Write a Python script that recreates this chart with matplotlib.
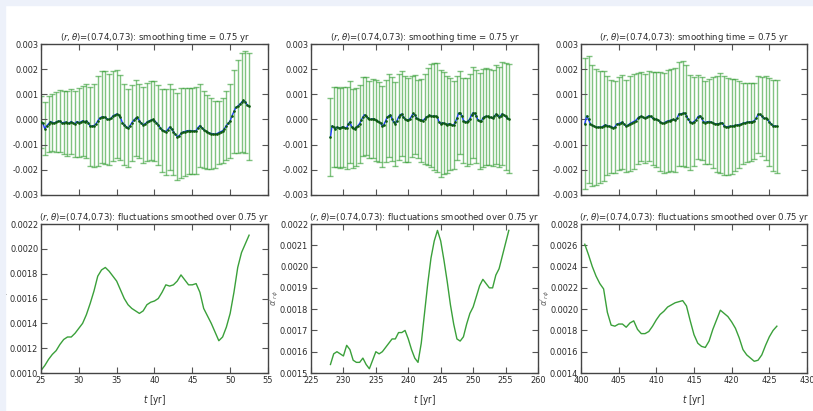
import numpy as np
import matplotlib
matplotlib.use('Agg')
from matplotlib import pyplot as plt
from matplotlib.patches import Rectangle

# smoothing window and location of the probe
r_theta = (0.74, 0.73)
smooth_yr = 0.75

# mean signal on a 0.25 yr grid, fluctuation amplitude on a 0.5 yr grid
t0_a = 25.0
mean_a = [
    -0.00010, -0.00015, -0.00037, -0.00025, -0.00017, -0.00008, -0.00012, -0.00014,
    -0.00010, -0.00007, -0.00006, -0.00013, -0.00012, -0.00010, -0.00015, -0.00013,
    -0.00008, -0.00014, -0.00017, -0.00008, -0.00012, -0.00010, -0.00005, -0.00010,
    -0.00006, -0.00012, -0.00027, -0.00026, -0.00024, -0.00018, -0.00006, 0.00005,
    0.00010, 0.00010, 0.00008, 0.00001, 0.00000, 0.00005, 0.00014, 0.00018,
    0.00022, 0.00018, 0.00008, -0.00012, -0.00020, -0.00028, -0.00035, -0.00025,
    -0.00013, -0.00003, 0.00005, 0.00008, -0.00005, -0.00014, -0.00021, -0.00017,
    -0.00011, -0.00006, -0.00003, 0.00000, -0.00005, -0.00012, -0.00022, -0.00032,
    -0.00042, -0.00046, -0.00048, -0.00040, -0.00030, -0.00038, -0.00048, -0.00058,
    -0.00068, -0.00065, -0.00055, -0.00050, -0.00048, -0.00045, -0.00044, -0.00044,
    -0.00045, -0.00046, -0.00044, -0.00032, -0.00024, -0.00032, -0.00040, -0.00046,
    -0.00050, -0.00053, -0.00056, -0.00057, -0.00058, -0.00056, -0.00052, -0.00048,
    -0.00045, -0.00036, -0.00024, -0.00015, -0.00005, 0.00015, 0.00032, 0.00048,
    0.00053, 0.00060, 0.00068, 0.00076, 0.00070, 0.00058, 0.00052,
]
sigma_a = [
    0.00102, 0.00106, 0.00111, 0.00115, 0.00118, 0.00123, 0.00127, 0.00129,
    0.00129, 0.00132, 0.00136, 0.00140, 0.00147, 0.00156, 0.00166, 0.00178,
    0.00183, 0.00185, 0.00182, 0.00178, 0.00174, 0.00167, 0.00160, 0.00155,
    0.00152, 0.00150, 0.00148, 0.00150, 0.00155, 0.00157, 0.00158, 0.00160,
    0.00165, 0.00171, 0.00170, 0.00171, 0.00174, 0.00179, 0.00175, 0.00171,
    0.00171, 0.00172, 0.00165, 0.00152, 0.00146, 0.00140, 0.00133, 0.00126,
    0.00129, 0.00137, 0.00148, 0.00165, 0.00185, 0.00197, 0.00204, 0.00211,
]

t0_b = 228.0
mean_b = [
    -0.00070, -0.00025, -0.00030, -0.00037, -0.00030, -0.00033, -0.00033, -0.00031,
    -0.00030, -0.00032, -0.00033, -0.00018, -0.00010, -0.00028, -0.00035, -0.00037,
    -0.00030, -0.00024, -0.00016, -0.00002, 0.00010, 0.00019, 0.00013, 0.00007,
    0.00001, 0.00001, 0.00003, 0.00001, -0.00003, -0.00006, -0.00010, -0.00015,
    -0.00027, -0.00020, -0.00005, 0.00009, 0.00015, 0.00018, 0.00002, -0.00010,
    -0.00017, -0.00005, 0.00010, 0.00019, 0.00022, 0.00010, 0.00003, -0.00003,
    -0.00001, 0.00003, 0.00013, 0.00024, 0.00018, 0.00007, 0.00002, -0.00001,
    -0.00003, -0.00004, 0.00002, 0.00009, 0.00012, 0.00016, 0.00015, 0.00013,
    0.00013, 0.00013, 0.00008, -0.00010, -0.00017, -0.00013, -0.00014, -0.00019,
    -0.00020, -0.00017, -0.00019, -0.00023, -0.00022, -0.00010, 0.00005, 0.00025,
    0.00026, 0.00015, -0.00004, -0.00008, -0.00010, -0.00005, 0.00003, 0.00018,
    0.00027, 0.00024, 0.00012, -0.00002, -0.00007, -0.00007, 0.00006, 0.00011,
    0.00013, 0.00012, 0.00010, 0.00008, 0.00005, 0.00012, 0.00021, 0.00018,
    0.00011, 0.00015, 0.00023, 0.00017, 0.00012, 0.00005, 0.00003,
]
sigma_b = [
    0.00154, 0.00159, 0.00160, 0.00159, 0.00158, 0.00163, 0.00161, 0.00156,
    0.00155, 0.00155, 0.00157, 0.00154, 0.00152, 0.00156, 0.00160, 0.00159,
    0.00160, 0.00162, 0.00164, 0.00166, 0.00166, 0.00169, 0.00169, 0.00170,
    0.00166, 0.00161, 0.00157, 0.00155, 0.00164, 0.00178, 0.00192, 0.00204,
    0.00212, 0.00217, 0.00212, 0.00203, 0.00193, 0.00182, 0.00173, 0.00166,
    0.00165, 0.00167, 0.00173, 0.00178, 0.00181, 0.00186, 0.00191, 0.00194,
    0.00192, 0.00190, 0.00190, 0.00196, 0.00199, 0.00205, 0.00211, 0.00217,
]

t0_c = 400.5
mean_c = [
    -0.00017, 0.00014, 0.00000, -0.00018, -0.00023, -0.00027, -0.00030, -0.00031,
    -0.00030, -0.00030, -0.00025, -0.00021, -0.00025, -0.00027, -0.00028, -0.00033,
    -0.00030, -0.00018, -0.00016, -0.00013, -0.00010, -0.00019, -0.00027, -0.00022,
    -0.00016, -0.00012, -0.00008, -0.00004, 0.00004, 0.00011, 0.00013, 0.00008,
    0.00005, 0.00010, 0.00015, 0.00012, 0.00005, 0.00002, 0.00000, -0.00003,
    -0.00008, -0.00015, -0.00015, -0.00009, -0.00006, -0.00004, -0.00002, 0.00000,
    -0.00003, 0.00005, 0.00022, 0.00023, 0.00024, 0.00026, 0.00015, 0.00000,
    -0.00011, -0.00013, -0.00008, -0.00002, 0.00010, 0.00015, 0.00005, -0.00008,
    -0.00012, -0.00009, -0.00008, -0.00010, -0.00013, -0.00017, -0.00017, -0.00017,
    -0.00015, -0.00013, -0.00025, -0.00030, -0.00028, -0.00027, -0.00027, -0.00025,
    -0.00023, -0.00022, -0.00020, -0.00018, -0.00015, -0.00013, -0.00011, -0.00010,
    -0.00009, -0.00008, -0.00005, 0.00005, 0.00020, 0.00020, 0.00013, 0.00004,
    0.00005, 0.00000, -0.00010, -0.00017, -0.00024, -0.00026, -0.00027,
]
sigma_c = [
    0.00261, 0.00251, 0.00240, 0.00231, 0.00224, 0.00219, 0.00197, 0.00185,
    0.00184, 0.00186, 0.00186, 0.00183, 0.00187, 0.00189, 0.00181, 0.00177,
    0.00177, 0.00179, 0.00184, 0.00190, 0.00195, 0.00198, 0.00202, 0.00204,
    0.00206, 0.00207, 0.00208, 0.00203, 0.00189, 0.00176, 0.00168, 0.00165,
    0.00164, 0.00170, 0.00181, 0.00190, 0.00199, 0.00196, 0.00193, 0.00188,
    0.00182, 0.00173, 0.00162, 0.00157, 0.00154, 0.00151, 0.00152, 0.00157,
    0.00166, 0.00174, 0.00180, 0.00184,
]

step_mean = 0.25
x_limits = [(25, 55), (225, 260), (400, 430)]
fluct_limits = [(0.0010, 0.0022, 0.0002), (0.0015, 0.0022, 0.0001), (0.0014, 0.0028, 0.0002)]

W, H = 813, 411
col_px = [(41, 268), (311, 538), (581, 807)]
top_px = (44, 195)
bot_px = (224, 373)

plt.rcParams['font.family'] = ['DejaVu Sans']
plt.rcParams['font.stretch'] = 'condensed'
plt.rcParams['mathtext.fontset'] = 'dejavusans'
text_col = '#2a2a2a'
title_size = 6.8


def px_axes(fig, x_px, y_px):
    left = x_px[0] / W
    width = (x_px[1] - x_px[0]) / W
    bottom = 1 - y_px[1] / H
    height = (y_px[1] - y_px[0]) / H
    return fig.add_axes([left, bottom, width, height])


def style_axes(ax):
    ax.tick_params(direction='in', top=True, right=True, length=4, width=0.8,
                   colors='#555555', labelcolor=text_col, labelsize=6.6, pad=2)
    for s in ax.spines.values():
        s.set_color('#444444')
        s.set_linewidth(1.0)


fig = plt.figure(figsize=(W / 100, H / 100), dpi=100)
fig.patch.set_facecolor('white')
fig.patches.append(Rectangle((0, 0), 5 / W, 1, transform=fig.transFigure,
                             color='#edf1fa', zorder=0))
fig.patches.append(Rectangle((0, 1 - 5 / H), 1, 5 / H, transform=fig.transFigure,
                             color='#edf1fa', zorder=0))

columns = [(t0_a, mean_a, sigma_a), (t0_b, mean_b, sigma_b), (t0_c, mean_c, sigma_c)]
rt = r'$(r,\theta)$=(%.2f,%.2f)' % r_theta

for i, (t0, mean, sigma) in enumerate(columns):
    mean = np.asarray(mean)
    sigma = np.asarray(sigma)
    t_mean = t0 + step_mean * np.arange(len(mean))
    t_sig = t_mean[::2]

    # top: smoothed mean with fluctuation bars
    ax1 = px_axes(fig, col_px[i], top_px)
    ax1.errorbar(t_sig, mean[::2], yerr=sigma, fmt='none', ecolor='#2e9b2e',
                 elinewidth=1.0, capsize=2, capthick=1.0, alpha=0.6, zorder=1)
    ax1.plot(t_mean, mean, '-', color='#2040ff', lw=1.0, zorder=2)
    ax1.plot(t_mean, mean, '.', color='#0d5a0d', ms=1.8, zorder=3)
    ax1.set_xlim(*x_limits[i])
    ax1.set_ylim(-0.003, 0.003)
    yt1 = np.arange(-0.003, 0.0031, 0.001)
    ax1.set_yticks(yt1)
    ax1.set_yticklabels(['%.3f' % v for v in yt1])
    ax1.set_xticks(np.arange(x_limits[i][0], x_limits[i][1] + 0.1, 5))
    ax1.set_xticklabels([])
    style_axes(ax1)
    ax1.set_title(rt + ': smoothing time = %.2f yr' % smooth_yr,
                  fontsize=title_size, color=text_col, pad=3)

    # bottom: fluctuation amplitude
    ax2 = px_axes(fig, col_px[i], bot_px)
    ax2.plot(t_sig, sigma, '-', color='#3aa03a', lw=1.0)
    lo, hi, st = fluct_limits[i]
    ax2.set_xlim(*x_limits[i])
    ax2.set_ylim(lo, hi)
    yt = np.arange(lo, hi + st / 2, st)
    ax2.set_yticks(yt)
    ax2.set_yticklabels(['%.4f' % v for v in yt])
    xt = np.arange(x_limits[i][0], x_limits[i][1] + 0.1, 5)
    ax2.set_xticks(xt)
    ax2.set_xticklabels(['%d' % v for v in xt])
    style_axes(ax2)
    ax2.set_title(rt + ': fluctuations smoothed over %.2f yr' % smooth_yr,
                  fontsize=title_size, color=text_col, pad=3)
    ax2.set_xlabel(r'$t$ [yr]', fontsize=7, color=text_col, labelpad=6)
    ax2.set_ylabel(r"$\alpha'_{r\phi}$", fontsize=6.5, color='#666666')
    ax2.yaxis.set_label_coords(-0.13, 0.5)

fig.savefig('out.png', dpi=100)
